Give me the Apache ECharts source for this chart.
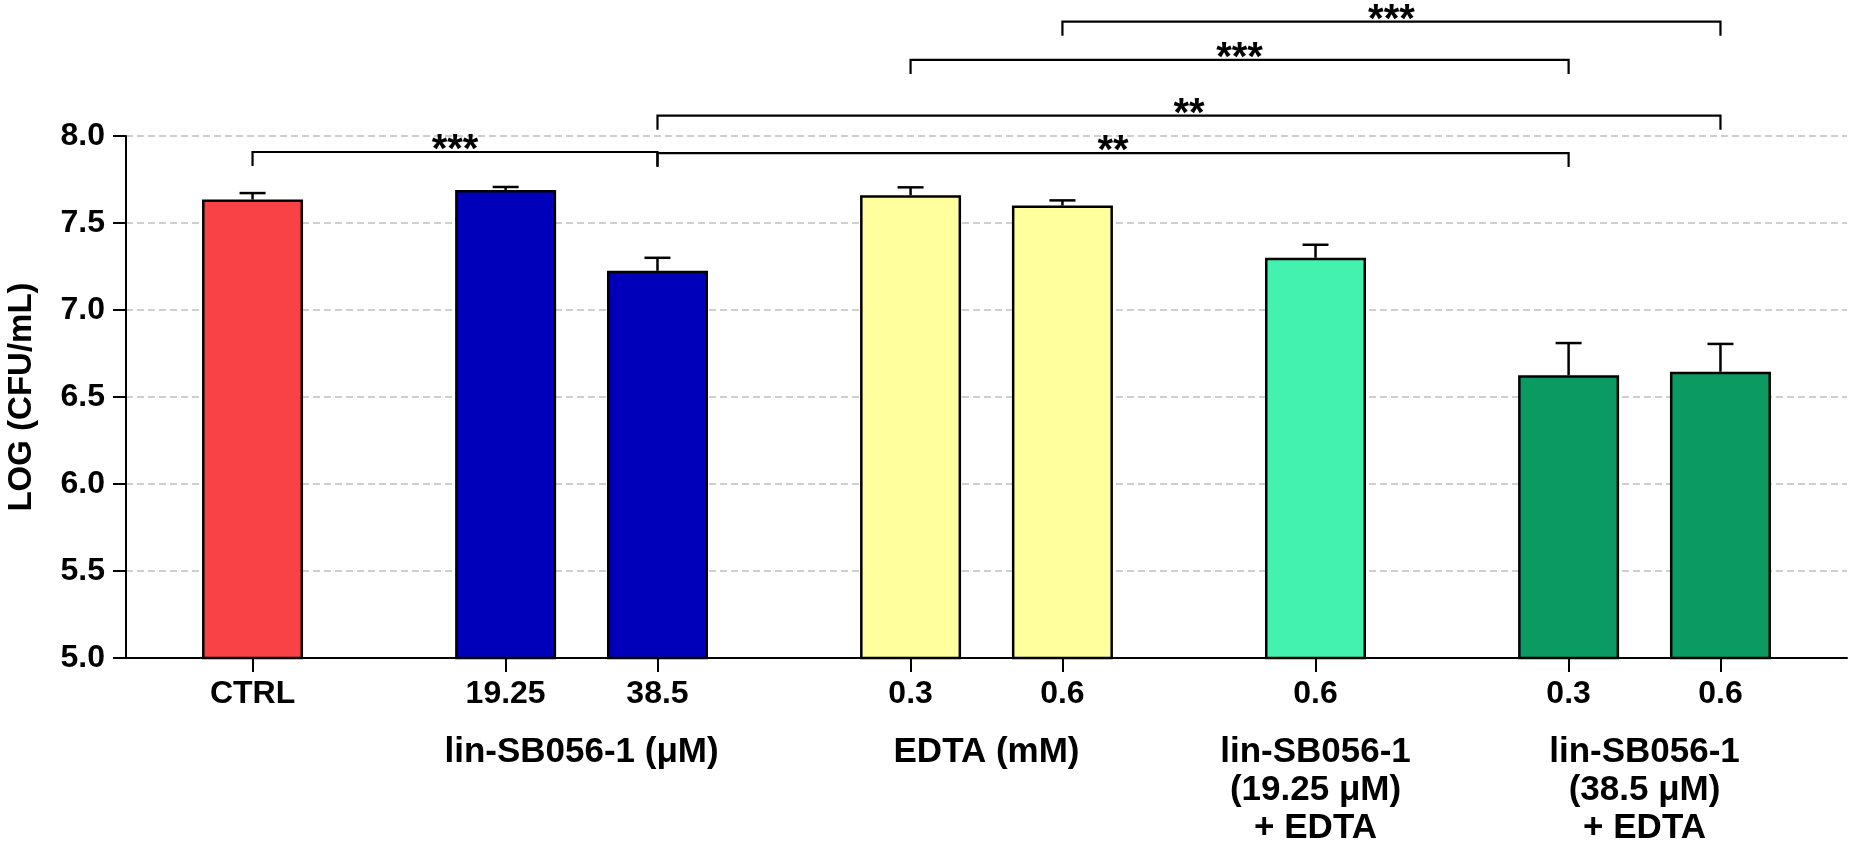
<!DOCTYPE html>
<html lang="en">
<head>
    <meta charset="utf-8">
    <title>LOG CFU/mL</title>
    <script src="https://cdn.jsdelivr.net/npm/echarts@6/dist/echarts.min.js"></script>
    <style>
        html, body { margin: 0; padding: 0; background: #ffffff; }
    </style>
</head>
<body>

<div id="main" style="width: 1850px;height:845px;"></div>

<script type="text/javascript">

    // bars, left to right
    var barLabels = ['CTRL', '19.25', '38.5', '0.3', '0.6', '0.6', '0.3', '0.6'];
    var barSlots = [2, 7, 10, 15, 18, 23, 28, 31];   // category slot of each bar
    var slotCount = 34;
    var means = [7.635, 7.69, 7.225, 7.66, 7.60, 7.30, 6.625, 6.645];
    var sems = [0.037, 0.017, 0.075, 0.045, 0.03, 0.075, 0.185, 0.16];
    var barColors = ['#f94245', '#0000bb', '#0000bb', '#ffff9e', '#ffff9e', '#44f2b0', '#0a9a62', '#0a9a62'];

    // group captions under the axis: [text, first bar, last bar]
    var groupTexts = ['lin-SB056-1 (\u03bcM)', 'EDTA (mM)', 'lin-SB056-1\n(19.25 \u03bcM)\n+ EDTA', 'lin-SB056-1\n(38.5 \u03bcM)\n+ EDTA'];
    var groupFirst = [1, 3, 5, 6];
    var groupLast = [2, 4, 5, 7];

    // significance brackets: from bar, to bar, height (y units), stars
    var sigFrom = [0, 2, 2, 3, 4];
    var sigTo = [2, 6, 7, 6, 7];
    var sigLevel = [7.908, 7.902, 8.117, 8.437, 8.657];
    var sigStars = ['***', '**', '**', '***', '***'];

    var yTicks = [5.0, 5.5, 6.0, 6.5, 7.0, 7.5, 8.0];

    var FONT = "'Liberation Sans', Arial, sans-serif";

    var categories = [];
    var barData = [];
    for (var i = 0; i < slotCount; i++) {
        categories.push('');
        barData.push('-');
    }
    for (var j = 0; j < barLabels.length; j++) {
        categories[barSlots[j]] = barLabels[j];
        barData[barSlots[j]] = {value: means[j], itemStyle: {color: barColors[j]}};
    }

    var errData = [];
    for (var j = 0; j < means.length; j++) {
        errData.push([barSlots[j], means[j], sems[j]]);
    }

    var sigData = [];
    for (var k = 0; k < sigFrom.length; k++) {
        sigData.push([barSlots[sigFrom[k]], barSlots[sigTo[k]], sigLevel[k], k]);
    }

    var groupData = [];
    for (var g = 0; g < groupTexts.length; g++) {
        groupData.push([barSlots[groupFirst[g]], barSlots[groupLast[g]], yTicks[0], g]);
    }

    var myChart = echarts.init(document.getElementById('main'));

    var option = {
        backgroundColor: '#ffffff',
        animation: false,
        grid: {
            left: 126,
            right: 3,
            top: 136,
            bottom: 187,
            containLabel: false,
            outerBoundsMode: 'none'
        },
        xAxis: {
            type: 'category',
            data: categories,
            axisLine: {show: true, lineStyle: {color: '#000', width: 2}},
            axisTick: {
                show: true,
                alignWithLabel: true,
                length: 14,
                interval: function (idx, val) { return val !== ''; },
                lineStyle: {color: '#000', width: 2}
            },
            axisLabel: {
                interval: 0,
                margin: 20,
                color: '#000',
                fontSize: 32,
                fontWeight: 'bold',
                fontFamily: FONT
            },
            splitLine: {show: false}
        },
        yAxis: {
            type: 'value',
            min: 5,
            max: 8,
            interval: 0.5,
            name: 'LOG (CFU/mL)',
            nameLocation: 'middle',
            nameGap: 88,
            nameTextStyle: {
                color: '#000',
                fontSize: 33,
                fontWeight: 'bold',
                fontFamily: FONT
            },
            axisLine: {show: true, lineStyle: {color: '#000', width: 2}},
            axisTick: {show: true, length: 13, lineStyle: {color: '#000', width: 2}},
            axisLabel: {
                margin: 21,
                color: '#000',
                fontSize: 32,
                fontWeight: 'bold',
                fontFamily: FONT,
                formatter: function (v) { return v.toFixed(1); }
            },
            splitLine: {
                show: true,
                lineStyle: {color: '#cfcfcf', width: 2, type: [7, 4]}
            }
        },
        series: [
            {
                name: 'bars',
                type: 'bar',
                data: barData,
                barWidth: 101,
                itemStyle: {borderColor: '#000', borderWidth: 2.5},
                z: 2
            },
            {
                name: 'sem',
                type: 'custom',
                data: errData,
                clip: false,
                z: 3,
                renderItem: function (params, api) {
                    var base = api.coord([api.value(0), api.value(1)]);
                    var top = api.coord([api.value(0), api.value(1) + api.value(2)]);
                    var half = 13;
                    var st = {stroke: '#000', lineWidth: 2.5};
                    return {
                        type: 'group',
                        children: [
                            {type: 'line', shape: {x1: base[0], y1: base[1], x2: top[0], y2: top[1]}, style: st},
                            {type: 'line', shape: {x1: top[0] - half, y1: top[1], x2: top[0] + half, y2: top[1]}, style: st}
                        ]
                    };
                }
            },
            {
                name: 'sig',
                type: 'custom',
                data: sigData,
                clip: false,
                z: 3,
                renderItem: function (params, api) {
                    var a = api.coord([api.value(0), api.value(2)]);
                    var b = api.coord([api.value(1), api.value(2)]);
                    var drop = 14;
                    return {
                        type: 'group',
                        children: [
                            {type: 'polyline', shape: {points: [[a[0], a[1] + drop], [a[0], a[1]], [b[0], b[1]], [b[0], b[1] + drop]]}, style: {stroke: '#000', lineWidth: 2.2, fill: null}},
                            {type: 'text', x: (a[0] + b[0]) / 2, y: a[1] - 1, style: {
                                text: sigStars[api.value(3)],
                                fill: '#000',
                                font: 'bold 40px ' + FONT,
                                align: 'center',
                                verticalAlign: 'middle'
                            }}
                        ]
                    };
                }
            },
            {
                name: 'groups',
                type: 'custom',
                data: groupData,
                clip: false,
                z: 3,
                renderItem: function (params, api) {
                    var a = api.coord([api.value(0), api.value(2)]);
                    var b = api.coord([api.value(1), api.value(2)]);
                    return {
                        type: 'text',
                        x: (a[0] + b[0]) / 2,
                        y: a[1] + 75,
                        style: {
                            text: groupTexts[api.value(3)],
                            fill: '#000',
                            font: 'bold 35px ' + FONT,
                            lineHeight: 38,
                            align: 'center',
                            verticalAlign: 'top'
                        }
                    };
                }
            }
        ]
    };

    myChart.setOption(option);

</script>

</body>
</html>
